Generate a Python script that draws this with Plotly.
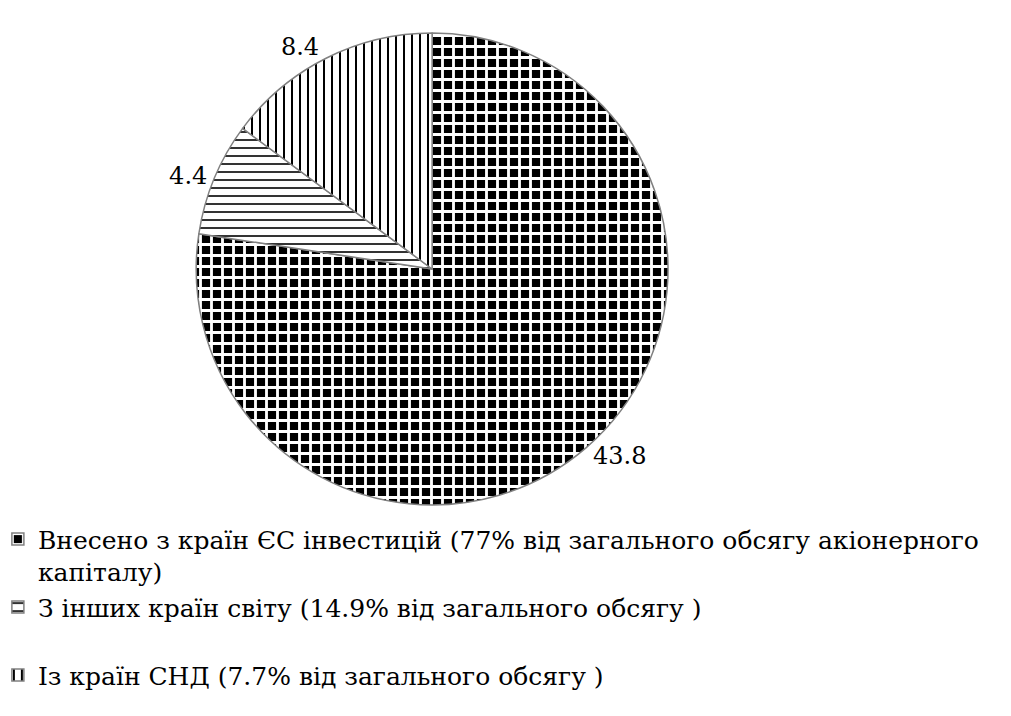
import plotly.graph_objects as go

labels = [
    "Внесено з країн ЄС інвестицій (77% від загального обсягу акіонерного<br>капіталу)",
    "З інших країн світу (14.9% від загального обсягу )<br> ",
    "Із країн СНД (7.7% від загального обсягу )",
]
values = [43.8, 4.4, 8.4]
pattern_shapes = ["+", "-", "|"]
pattern_fg = ["white", "black", "black"]
pattern_bg = ["black", "white", "white"]
pattern_size = [11, 8, 8]
pattern_solidity = [0.45, 0.2, 0.25]

SERIF = "DejaVu Serif"

fig = go.Figure(go.Pie(
    labels=labels,
    values=values,
    sort=False,
    direction="clockwise",
    rotation=0,
    textinfo="value",
    texttemplate="%{value:.1f}",
    textposition="outside",
    textfont=dict(family=SERIF, size=24, color="black"),
    marker=dict(
        colors=["black", "white", "white"],
        line=dict(color="#808080", width=1.5),
        pattern=dict(shape=pattern_shapes, fgcolor=pattern_fg, bgcolor=pattern_bg,
                     size=pattern_size, solidity=pattern_solidity, fillmode="replace"),
    ),
    domain=dict(x=[0.147, 0.692], y=[0.306, 0.965]),
    hoverinfo="label+value",
))

fig.update_layout(
    width=1011, height=716,
    margin=dict(l=0, r=0, t=0, b=0, autoexpand=False),
    paper_bgcolor="white",
    plot_bgcolor="white",
    font=dict(family=SERIF, color="black"),
    showlegend=True,
    legend=dict(
        x=-0.01, y=0.29, xanchor="left", yanchor="top",
        font=dict(family=SERIF, size=25, color="black"),
        valign="top",
        itemwidth=30,
    ),
)

fig.write_html("out.html")
